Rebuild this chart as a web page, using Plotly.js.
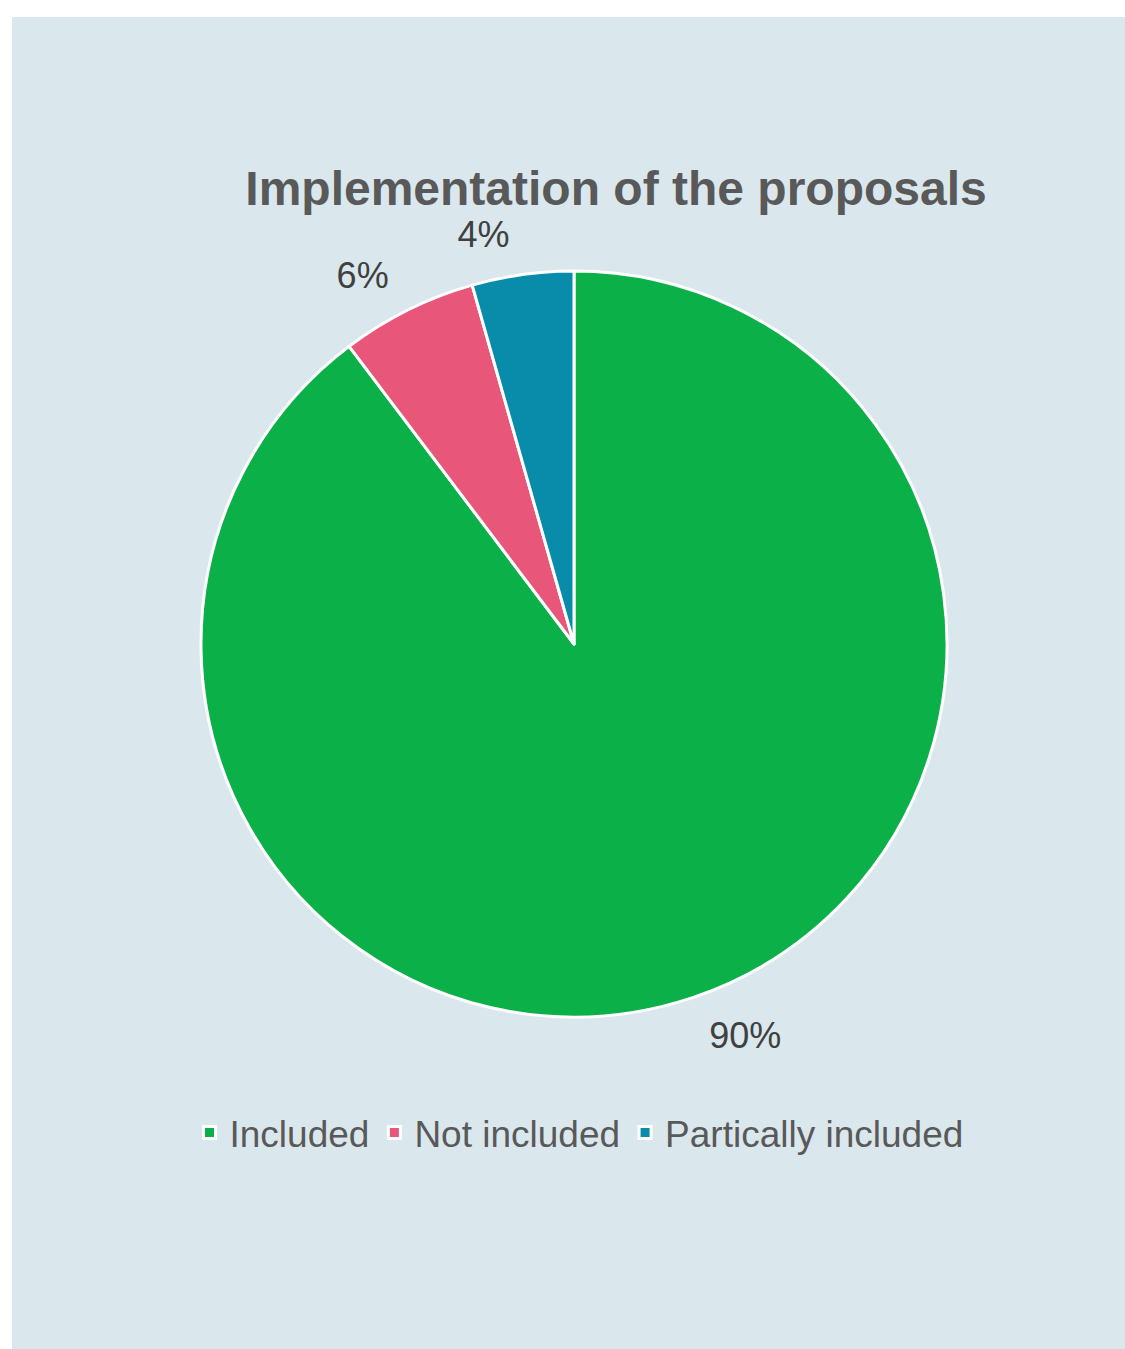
<!DOCTYPE html>
<html>
<head>
<meta charset="utf-8">
<script src="https://cdn.plot.ly/plotly-3.0.1.min.js"></script>
<style>
  html, body { margin: 0; padding: 0; background: #ffffff; }
  #chart { position: absolute; left: 12px; top: 17px; width: 1113px; height: 1332px; }
  #chart path.textline { display: none !important; }
</style>
</head>
<body>
<div id="chart"></div>
<script>
const categories = ["Included", "Not included", "Partically included"];
const shares = [89.7, 5.9, 4.4];
const sliceColors = ["#0BB048", "#E8577A", "#098CAA"];
const chartTitle = "Implementation of the proposals";

const W = 1113, H = 1332;
const cx = 562, cy = 627, r = 373, rLabel = 393;
const FONT = "Liberation Sans, Arial, sans-serif";

function domainFor(rad) {
  return { x: [(cx - rad) / W, (cx + rad) / W], y: [1 - (cy + rad) / H, 1 - (cy - rad) / H] };
}

const pieTrace = {
  type: "pie",
  labels: categories,
  values: shares,
  sort: false,
  direction: "clockwise",
  rotation: 0,
  marker: { colors: sliceColors, line: { color: "#ffffff", width: 3 } },
  textinfo: "none",
  hoverinfo: "label+percent",
  domain: domainFor(r)
};

// transparent twin, slightly larger, only used to place the percentage labels a bit outside the rim
const labelTrace = {
  type: "pie",
  labels: categories,
  values: shares,
  sort: false,
  direction: "clockwise",
  rotation: 0,
  showlegend: false,
  marker: { colors: ["rgba(0,0,0,0)", "rgba(0,0,0,0)", "rgba(0,0,0,0)"], line: { width: 0 } },
  textposition: "outside",
  texttemplate: "%{percent:.0%}",
  outsidetextfont: { family: FONT, size: 36, color: "#404040" },
  hoverinfo: "skip",
  domain: domainFor(rLabel)
};

const layout = {
  width: W, height: H,
  margin: { l: 0, r: 0, t: 0, b: 0 },
  paper_bgcolor: "#DAE8ED",
  plot_bgcolor: "#DAE8ED",
  font: { family: FONT, color: "#595959" },
  title: {
    text: "<b>" + chartTitle + "</b>",
    font: { size: 48, color: "#595959", family: FONT },
    x: 604 / W, xref: "paper", xanchor: "center",
    y: 1 - 171 / H, yref: "paper", yanchor: "middle"
  },
  showlegend: true,
  legend: {
    orientation: "h",
    x: 567 / W, xanchor: "center",
    y: 1 - 1116 / H, yanchor: "middle",
    font: { size: 37, color: "#595959", family: FONT },
    bgcolor: "rgba(0,0,0,0)"
  }
};

Plotly.newPlot("chart", [pieTrace, labelTrace], layout, { displayModeBar: false, staticPlot: true });
</script>
</body>
</html>
